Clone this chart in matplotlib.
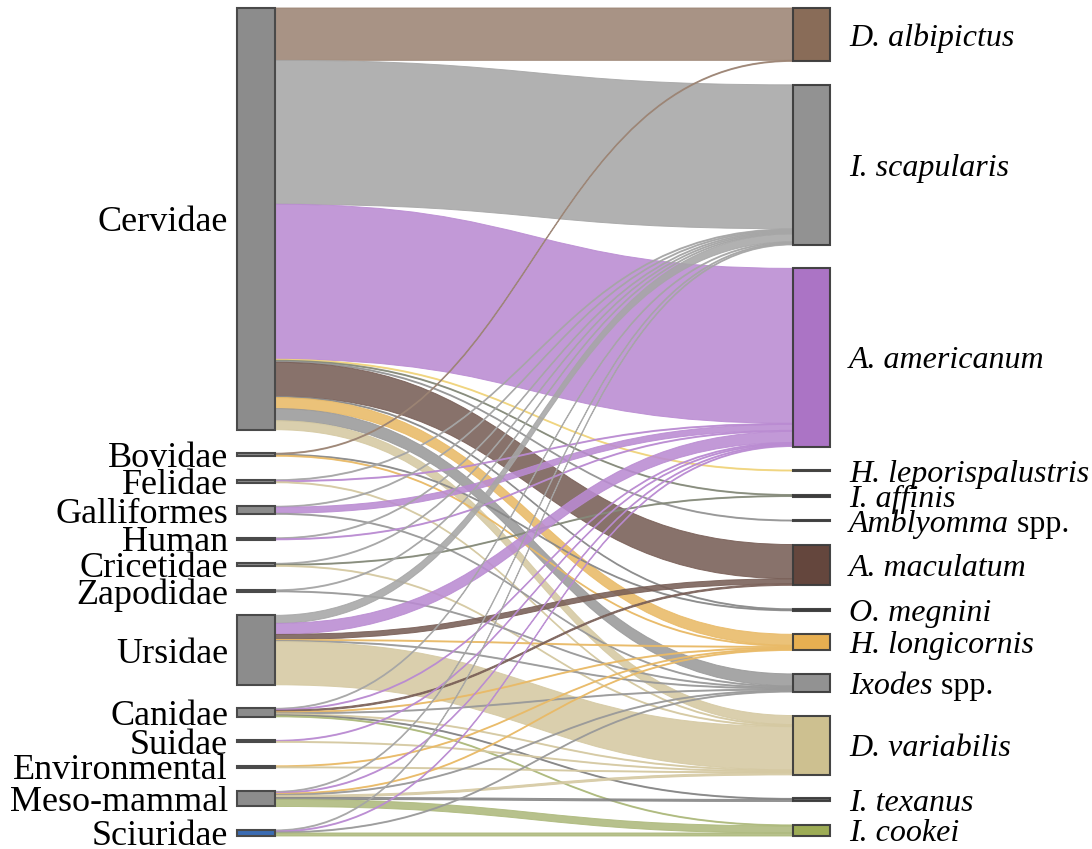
import matplotlib
matplotlib.use("Agg")
import matplotlib.pyplot as plt
from matplotlib.patches import Rectangle, PathPatch
from matplotlib.path import Path

# --- Data ---------------------------------------------------------------------

HOSTS = ['Cervidae', 'Bovidae', 'Felidae', 'Galliformes', 'Human', 'Cricetidae',
         'Zapodidae', 'Ursidae', 'Canidae', 'Suidae', 'Environmental',
         'Meso-mammal', 'Sciuridae']

# (italic part, roman part)
TICKS = [('D. albipictus', ''), ('I. scapularis', ''), ('A. americanum', ''),
         ('H. leporispalustris', ''), ('I. affinis', ''), ('Amblyomma', ' spp.'),
         ('A. maculatum', ''), ('O. megnini', ''), ('H. longicornis', ''),
         ('Ixodes', ' spp.'), ('D. variabilis', ''), ('I. texanus', ''),
         ('I. cookei', '')]

# flows from each host, in TICKS order
#              DA   IS   AA  HL IA AS  AM OM HLo IX  DV IT IC
CERVIDAE =    [52, 143, 154, 1, 1, 1, 34, 1, 11, 12,  9, 0, 0]
BOVIDAE =     [1,   0,   0,  0, 0, 0,  0, 1,  1,  0,  0, 0, 0]
FELIDAE =     [0,   1,   1,  0, 0, 0,  0, 0,  0,  0,  1, 0, 0]
GALLIFORMES = [0,   1,   6,  0, 0, 0,  0, 0,  0,  1,  0, 0, 0]
HUMAN =       [0,   1,   1,  0, 0, 0,  0, 0,  0,  0,  0, 0, 0]
CRICETIDAE =  [0,   1,   0,  0, 1, 0,  0, 0,  0,  0,  1, 0, 0]
ZAPODIDAE =   [0,   1,   0,  0, 0, 0,  0, 0,  0,  1,  0, 0, 0]
URSIDAE =     [0,   8,  11,  0, 0, 0,  5, 0,  1,  1, 43, 0, 0]
CANIDAE =     [0,   1,   1,  0, 0, 0, 1.5, 0, 1,  1,  1, 1, 1]
SUIDAE =      [0,   0,   1,  0, 0, 0,  0, 0,  0,  0,  1, 0, 0]
ENVIRONMENTAL = [0, 0,   0,  0, 0, 0,  0, 0,  1,  0,  1, 0, 0]
MESO_MAMMAL = [0,   1,   1,  0, 0, 0,  0, 0,  1,  1,  2, 2, 7]
SCIURIDAE =   [0,   1,   1,  0, 0, 0,  0, 0,  0,  1,  0, 0, 3]

FLOWS = [CERVIDAE, BOVIDAE, FELIDAE, GALLIFORMES, HUMAN, CRICETIDAE, ZAPODIDAE,
         URSIDAE, CANIDAE, SUIDAE, ENVIRONMENTAL, MESO_MAMMAL, SCIURIDAE]

# --- Style --------------------------------------------------------------------

HOST_COLORS = ['#8c8c8c'] * 12 + ['#3b6cb3']
TICK_COLORS = ['#83644f', '#8c8c8c', '#a76cc2', '#e6c55a', '#4d5244', '#777777',
               '#5c3c32', '#666666', '#e6ab48', '#8c8c8c', '#cbbd8a', '#555555',
               '#98a84c']
LINK_COLORS = ['#9c8474', '#a6a6a6', '#ba8bd2', '#f0d47c', '#858a7a', '#959595',
               '#785e56', '#8a8a8a', '#e9ba67', '#9a9a9a', '#d5c9a2', '#858585',
               '#adb97c']

W, H = 1092, 849
TOP, BOTTOM = 8, 836
PAD = 23.5
X_LEFT = (237, 275)
X_RIGHT = (793, 830)
SERIF = 'Liberation Serif'

# --- Layout -------------------------------------------------------------------

n_h, n_t = len(HOSTS), len(TICKS)
host_tot = [sum(r) for r in FLOWS]
tick_tot = [sum(FLOWS[i][j] for i in range(n_h)) for j in range(n_t)]
total = sum(host_tot)
k = (BOTTOM - TOP - PAD * (n_h - 1)) / total


def stack(tots):
    ys, y = [], TOP
    for v in tots:
        ys.append(y)
        y += v * k + PAD
    return ys


host_y = stack(host_tot)
tick_y = stack(tick_tot)

fig = plt.figure(figsize=(W / 100, H / 100), dpi=100)
ax = fig.add_axes([0, 0, 1, 1])
ax.set_xlim(0, W)
ax.set_ylim(H, 0)
ax.axis('off')

# link ends: stacked at the source by target order, at the target by source order
src_pos = {}
for i in range(n_h):
    y = host_y[i]
    for j in range(n_t):
        if FLOWS[i][j]:
            src_pos[(i, j)] = y
            y += FLOWS[i][j] * k
tgt_pos = {}
for j in range(n_t):
    y = tick_y[j]
    for i in range(n_h):
        if FLOWS[i][j]:
            tgt_pos[(i, j)] = y
            y += FLOWS[i][j] * k

x0, x1 = X_LEFT[1], X_RIGHT[0]
xm = (x0 + x1) / 2
codes = [Path.MOVETO, Path.CURVE4, Path.CURVE4, Path.CURVE4,
         Path.LINETO, Path.CURVE4, Path.CURVE4, Path.CURVE4, Path.CLOSEPOLY]
for i in range(n_h):
    for j in range(n_t):
        v = FLOWS[i][j]
        if not v:
            continue
        s0, t0 = src_pos[(i, j)], tgt_pos[(i, j)]
        s1, t1 = s0 + v * k, t0 + v * k
        verts = [(x0, s0), (xm, s0), (xm, t0), (x1, t0),
                 (x1, t1), (xm, t1), (xm, s1), (x0, s1), (x0, s0)]
        ax.add_patch(PathPatch(Path(verts, codes), facecolor=LINK_COLORS[j],
                               edgecolor=LINK_COLORS[j], lw=0.7, alpha=0.88,
                               zorder=1))

# host nodes and labels
for i, name in enumerate(HOSTS):
    h = host_tot[i] * k
    ax.add_patch(Rectangle((X_LEFT[0], host_y[i]), X_LEFT[1] - X_LEFT[0], h,
                           facecolor=HOST_COLORS[i], edgecolor='#4a4a4a',
                           lw=1.5, zorder=3))
    ax.text(X_LEFT[0] - 9, host_y[i] + h / 2, name, ha='right',
            va='center_baseline', family=SERIF, fontsize=26, zorder=4)

# tick nodes and labels
renderer = fig.canvas.get_renderer()
for j, (ital, rom) in enumerate(TICKS):
    h = tick_tot[j] * k
    ax.add_patch(Rectangle((X_RIGHT[0], tick_y[j]), X_RIGHT[1] - X_RIGHT[0], h,
                           facecolor=TICK_COLORS[j], edgecolor='#3c3c3c',
                           lw=1.5, alpha=0.95, zorder=3))
    yc = tick_y[j] + h / 2
    t = ax.text(X_RIGHT[1] + 19, yc, ital, ha='left', va='center_baseline',
                family=SERIF, style='italic', fontsize=23, zorder=4)
    if rom:
        bb = t.get_window_extent(renderer)
        xr = ax.transData.inverted().transform((bb.x1, bb.y0))[0]
        ax.text(xr, yc, rom, ha='left', va='center_baseline',
                family=SERIF, fontsize=23, zorder=4)

fig.savefig('out.png', dpi=100)
